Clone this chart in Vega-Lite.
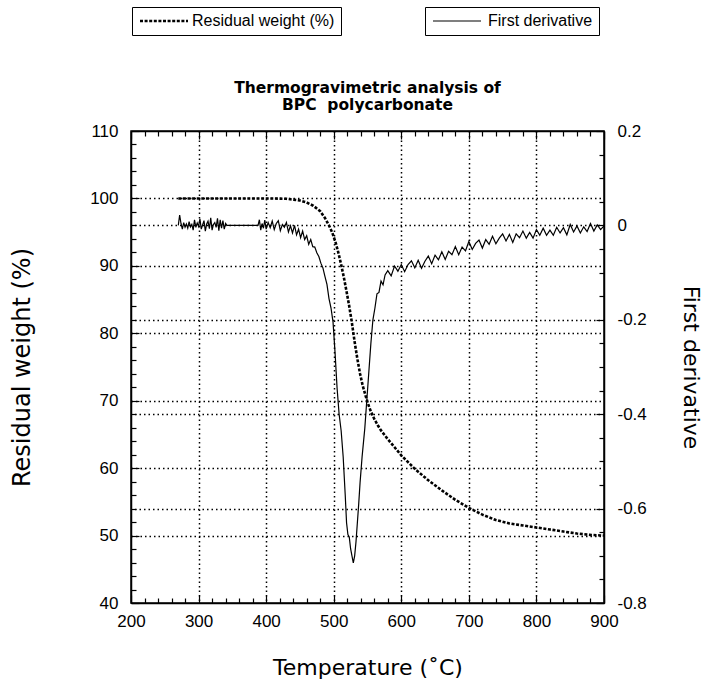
{
  "$schema": "https://vega.github.io/schema/vega-lite/v6.json",
  "width": 473,
  "height": 472,
  "autosize": "none",
  "padding": {"left": 131, "top": 131, "right": 103, "bottom": 87},
  "background": "white",
  "config": {
    "view": {"stroke": "black", "strokeWidth": 1.5},
    "font": "Liberation Sans"
  },
  "title": {
    "text": ["Thermogravimetric analysis of", "BPC\u00a0 polycarbonate"],
    "font": "DejaVu Sans",
    "fontWeight": "bold",
    "fontSize": 15.5,
    "lineHeight": 17,
    "offset": -107,
    "anchor": "middle",
    "color": "black"
  },
  "datasets": {
    "weight": [
      {"T": 270, "W": 100}, {"T": 300, "W": 100}, {"T": 350, "W": 100}, {"T": 400, "W": 100},
      {"T": 430, "W": 99.95}, {"T": 450, "W": 99.7}, {"T": 460, "W": 99.4}, {"T": 470, "W": 98.9},
      {"T": 480, "W": 98.1}, {"T": 487, "W": 97.1}, {"T": 493, "W": 96.0}, {"T": 498, "W": 94.9},
      {"T": 503, "W": 93.4}, {"T": 507, "W": 91.9}, {"T": 511, "W": 90.2}, {"T": 515, "W": 88.3},
      {"T": 519, "W": 86.2}, {"T": 523, "W": 84.0}, {"T": 527, "W": 81.5}, {"T": 531, "W": 78.7},
      {"T": 535, "W": 76.2}, {"T": 539, "W": 74.0}, {"T": 543, "W": 72.2}, {"T": 547, "W": 70.8},
      {"T": 551, "W": 69.5}, {"T": 555, "W": 68.4}, {"T": 560, "W": 67.3}, {"T": 565, "W": 66.4},
      {"T": 570, "W": 65.6}, {"T": 580, "W": 64.3}, {"T": 590, "W": 63.1}, {"T": 600, "W": 61.9},
      {"T": 620, "W": 59.9}, {"T": 640, "W": 58.2}, {"T": 660, "W": 56.7}, {"T": 680, "W": 55.3},
      {"T": 700, "W": 54.1}, {"T": 720, "W": 53.1}, {"T": 740, "W": 52.3}, {"T": 760, "W": 51.8},
      {"T": 780, "W": 51.5}, {"T": 800, "W": 51.2}, {"T": 820, "W": 50.9}, {"T": 840, "W": 50.6},
      {"T": 860, "W": 50.3}, {"T": 880, "W": 50.1}, {"T": 900, "W": 50.0}
    ],
    "deriv": [
      {"T": 270, "D": 0.000}, {"T": 272, "D": 0.022}, {"T": 274, "D": 0.004}, {"T": 276, "D": -0.008},
      {"T": 278, "D": 0.006}, {"T": 280, "D": -0.004}, {"T": 282, "D": 0.003}, {"T": 284, "D": -0.006},
      {"T": 286, "D": 0.008}, {"T": 288, "D": -0.003}, {"T": 290, "D": 0.002}, {"T": 292, "D": -0.010},
      {"T": 294, "D": 0.012}, {"T": 296, "D": -0.004}, {"T": 298, "D": 0.005}, {"T": 300, "D": -0.002},
      {"T": 302, "D": 0.014}, {"T": 304, "D": -0.008}, {"T": 306, "D": 0.001}, {"T": 308, "D": 0.010},
      {"T": 310, "D": -0.012}, {"T": 312, "D": 0.003}, {"T": 314, "D": 0.009}, {"T": 316, "D": -0.007},
      {"T": 318, "D": 0.016}, {"T": 320, "D": -0.010}, {"T": 322, "D": 0.002}, {"T": 324, "D": 0.006},
      {"T": 326, "D": -0.004}, {"T": 328, "D": 0.015}, {"T": 330, "D": -0.011}, {"T": 332, "D": 0.012},
      {"T": 334, "D": -0.006}, {"T": 336, "D": 0.010}, {"T": 338, "D": -0.008}, {"T": 340, "D": 0.004},
      {"T": 342, "D": 0.000}, {"T": 388, "D": 0.000},
      {"T": 390, "D": 0.012}, {"T": 392, "D": -0.010}, {"T": 394, "D": 0.004}, {"T": 396, "D": -0.006},
      {"T": 398, "D": 0.011}, {"T": 400, "D": -0.008}, {"T": 403, "D": 0.006}, {"T": 406, "D": -0.005},
      {"T": 409, "D": 0.009}, {"T": 412, "D": -0.009}, {"T": 415, "D": 0.004}, {"T": 418, "D": 0.010},
      {"T": 421, "D": -0.011}, {"T": 424, "D": 0.002}, {"T": 427, "D": -0.004}, {"T": 430, "D": 0.006},
      {"T": 433, "D": -0.014}, {"T": 436, "D": -0.001}, {"T": 439, "D": -0.016}, {"T": 442, "D": 0.000},
      {"T": 445, "D": -0.020}, {"T": 448, "D": -0.008}, {"T": 451, "D": -0.026}, {"T": 454, "D": -0.012},
      {"T": 457, "D": -0.030}, {"T": 460, "D": -0.022}, {"T": 463, "D": -0.040}, {"T": 466, "D": -0.030},
      {"T": 469, "D": -0.045}, {"T": 472, "D": -0.046}, {"T": 475, "D": -0.058}, {"T": 478, "D": -0.066},
      {"T": 481, "D": -0.080}, {"T": 484, "D": -0.090}, {"T": 487, "D": -0.108}, {"T": 490, "D": -0.125},
      {"T": 493, "D": -0.155}, {"T": 496, "D": -0.175}, {"T": 499, "D": -0.205}, {"T": 502, "D": -0.270},
      {"T": 505, "D": -0.345}, {"T": 508, "D": -0.400}, {"T": 511, "D": -0.435}, {"T": 514, "D": -0.490},
      {"T": 517, "D": -0.570}, {"T": 519, "D": -0.630}, {"T": 521, "D": -0.655}, {"T": 523, "D": -0.660},
      {"T": 525, "D": -0.685}, {"T": 527, "D": -0.700}, {"T": 529, "D": -0.715}, {"T": 531, "D": -0.700},
      {"T": 533, "D": -0.670}, {"T": 535, "D": -0.630}, {"T": 537, "D": -0.590}, {"T": 539, "D": -0.545},
      {"T": 542, "D": -0.490}, {"T": 546, "D": -0.430}, {"T": 549, "D": -0.370}, {"T": 552, "D": -0.310},
      {"T": 555, "D": -0.250}, {"T": 558, "D": -0.200}, {"T": 561, "D": -0.175}, {"T": 564, "D": -0.145},
      {"T": 567, "D": -0.142}, {"T": 570, "D": -0.118}, {"T": 573, "D": -0.126}, {"T": 576, "D": -0.105},
      {"T": 580, "D": -0.096}, {"T": 585, "D": -0.107}, {"T": 590, "D": -0.086}, {"T": 595, "D": -0.097},
      {"T": 600, "D": -0.083}, {"T": 605, "D": -0.098}, {"T": 610, "D": -0.083}, {"T": 615, "D": -0.075},
      {"T": 620, "D": -0.090}, {"T": 625, "D": -0.074}, {"T": 630, "D": -0.091}, {"T": 635, "D": -0.076},
      {"T": 640, "D": -0.065}, {"T": 645, "D": -0.081}, {"T": 650, "D": -0.063}, {"T": 655, "D": -0.073},
      {"T": 660, "D": -0.056}, {"T": 665, "D": -0.072}, {"T": 670, "D": -0.055}, {"T": 675, "D": -0.062},
      {"T": 680, "D": -0.045}, {"T": 685, "D": -0.062}, {"T": 690, "D": -0.046}, {"T": 695, "D": -0.054},
      {"T": 700, "D": -0.034}, {"T": 705, "D": -0.051}, {"T": 710, "D": -0.038}, {"T": 715, "D": -0.031},
      {"T": 720, "D": -0.048}, {"T": 725, "D": -0.030}, {"T": 730, "D": -0.040}, {"T": 735, "D": -0.023},
      {"T": 740, "D": -0.039}, {"T": 745, "D": -0.027}, {"T": 750, "D": -0.018}, {"T": 755, "D": -0.033},
      {"T": 760, "D": -0.019}, {"T": 765, "D": -0.036}, {"T": 770, "D": -0.018}, {"T": 775, "D": -0.026},
      {"T": 780, "D": -0.012}, {"T": 785, "D": -0.027}, {"T": 790, "D": -0.015}, {"T": 795, "D": -0.027},
      {"T": 800, "D": -0.009}, {"T": 805, "D": -0.021}, {"T": 810, "D": -0.006}, {"T": 815, "D": -0.021},
      {"T": 820, "D": -0.010}, {"T": 825, "D": -0.021}, {"T": 830, "D": -0.004}, {"T": 835, "D": -0.016},
      {"T": 840, "D": -0.005}, {"T": 845, "D": -0.020}, {"T": 850, "D": 0.002}, {"T": 855, "D": -0.014},
      {"T": 860, "D": -0.001}, {"T": 865, "D": -0.016}, {"T": 870, "D": -0.003}, {"T": 875, "D": -0.013},
      {"T": 880, "D": 0.004}, {"T": 885, "D": -0.012}, {"T": 890, "D": 0.001}, {"T": 895, "D": -0.009},
      {"T": 900, "D": -0.001}
    ]
  },
  "layer": [
    {
      "data": {"name": "weight"},
      "mark": {"type": "line", "color": "black", "strokeWidth": 2.6},
      "encoding": {
        "x": {
          "field": "T", "type": "quantitative",
          "scale": {"domain": [200, 900], "nice": false, "zero": false},
          "axis": {
            "orient": "bottom",
            "values": [200,220,240,260,280,300,320,340,360,380,400,420,440,460,480,500,520,540,560,580,600,620,640,660,680,700,720,740,760,780,800,820,840,860,880,900],
            "labelExpr": "datum.value % 100 === 0 ? datum.value : ''",
            "tickSize": {"condition": {"test": "datum.value % 100 === 0", "value": -8}, "value": -5},
            "labelPadding": 18,
            "grid": true,
            "gridOpacity": {"condition": {"test": "datum.value % 100 === 0 && datum.value > 200 && datum.value < 900", "value": 1}, "value": 0},
            "gridDash": [1.5, 3], "gridColor": "black", "gridWidth": 1.5,
            "domainColor": "black", "domainWidth": 1.5, "tickColor": "black", "tickWidth": 1.2,
            "labelFont": "Liberation Sans", "labelFontSize": 17, "labelColor": "black", "labelFlush": false, "labelOverlap": false,
            "title": "Temperature (˚C)",
            "titleFont": "DejaVu Sans", "titleFontSize": 22, "titleFontWeight": "normal", "titleColor": "black", "titlePadding": 25
          }
        },
        "y": {
          "field": "W", "type": "quantitative",
          "scale": {"domain": [40, 110], "nice": false, "zero": false},
          "axis": {
            "orient": "left",
            "values": [40,42,44,46,48,50,52,54,56,58,60,62,64,66,68,70,72,74,76,78,80,82,84,86,88,90,92,94,96,98,100,102,104,106,108,110],
            "labelExpr": "datum.value % 10 === 0 ? datum.value : ''",
            "tickSize": {"condition": {"test": "datum.value % 10 === 0", "value": -8}, "value": -5},
            "labelPadding": 21,
            "grid": true,
            "gridOpacity": {"condition": {"test": "datum.value % 10 === 0 && datum.value > 40 && datum.value < 110", "value": 1}, "value": 0},
            "gridDash": [1.5, 3], "gridColor": "black", "gridWidth": 1.5,
            "domainColor": "black", "domainWidth": 1.5, "tickColor": "black", "tickWidth": 1.2,
            "labelFont": "Liberation Sans", "labelFontSize": 17, "labelColor": "black", "labelFlush": false, "labelOverlap": false,
            "title": "Residual weight (%)",
            "titleFont": "DejaVu Sans", "titleFontSize": 24, "titleFontWeight": "normal", "titleColor": "black", "titlePadding": 55
          }
        },
        "strokeDash": {
          "datum": "Residual weight (%)", "type": "nominal",
          "scale": {"range": [[3, 1.6]]},
          "legend": {
            "orient": "none", "legendX": 1, "legendY": -124,
            "title": null, "strokeColor": "black", "fillColor": "white", "padding": 6,
            "labelFont": "Liberation Sans", "labelFontSize": 16, "labelColor": "black", "labelOffset": 38,
            "symbolType": "M-1,0H7", "symbolSize": 144, "symbolStrokeWidth": 2.6, "symbolStrokeColor": "black"
          }
        }
      }
    },
    {
      "data": {"name": "deriv"},
      "mark": {"type": "line", "strokeWidth": 1.2},
      "encoding": {
        "x": {
          "field": "T", "type": "quantitative",
          "scale": {"domain": [200, 900], "nice": false, "zero": false},
          "axis": {
            "orient": "top",
            "values": [200,220,240,260,280,300,320,340,360,380,400,420,440,460,480,500,520,540,560,580,600,620,640,660,680,700,720,740,760,780,800,820,840,860,880,900],
            "labels": false,
            "tickSize": {"condition": {"test": "datum.value % 100 === 0", "value": -8}, "value": -5},
            "grid": false,
            "domainColor": "black", "domainWidth": 1.5, "tickColor": "black", "tickWidth": 1.2,
            "title": null
          }
        },
        "y": {
          "field": "D", "type": "quantitative",
          "scale": {"domain": [-0.8, 0.2], "nice": false, "zero": false},
          "axis": {
            "orient": "right",
            "values": [0.2,0.15,0.1,0.05,0,-0.05,-0.1,-0.15,-0.2,-0.25,-0.3,-0.35,-0.4,-0.45,-0.5,-0.55,-0.6,-0.65,-0.7,-0.75,-0.8],
            "labelExpr": "abs(datum.value*5 - round(datum.value*5)) < 0.001 ? (datum.value < -0.001 ? '-' + format(-datum.value, '.1~f') : format(datum.value, '.1~f')) : ''",
            "tickSize": {"condition": {"test": "abs(datum.value*5 - round(datum.value*5)) < 0.001", "value": -8}, "value": -5},
            "labelPadding": 21,
            "grid": true,
            "gridOpacity": {"condition": {"test": "abs(datum.value*5 - round(datum.value*5)) < 0.001 && datum.value < 0.1 && datum.value > -0.7", "value": 1}, "value": 0},
            "gridDash": [1.5, 3], "gridColor": "black", "gridWidth": 1.5,
            "domainColor": "black", "domainWidth": 1.5, "tickColor": "black", "tickWidth": 1.2,
            "labelFont": "Liberation Sans", "labelFontSize": 17, "labelColor": "black", "labelFlush": false, "labelOverlap": false,
            "title": "First derivative",
            "titleFont": "DejaVu Sans", "titleFontSize": 22, "titleFontWeight": "normal", "titleColor": "black", "titlePadding": 32
          }
        },
        "color": {
          "datum": "First derivative", "type": "nominal",
          "scale": {"range": ["black"]},
          "legend": {
            "orient": "none", "legendX": 294, "legendY": -124,
            "title": null, "strokeColor": "black", "fillColor": "white", "padding": 6,
            "labelFont": "Liberation Sans", "labelFontSize": 16, "labelColor": "black", "labelOffset": 41,
            "symbolType": "M-1,0H7", "symbolSize": 144, "symbolStrokeWidth": 1.2, "symbolStrokeColor": "black"
          }
        }
      }
    }
  ],
  "resolve": {"scale": {"x": "independent", "y": "independent"}}
}
